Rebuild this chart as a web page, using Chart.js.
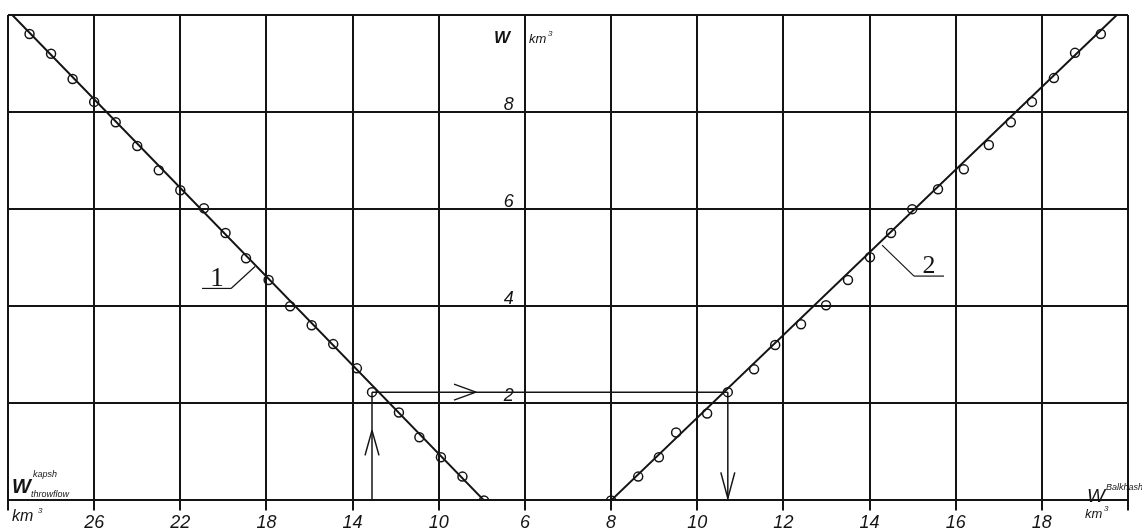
<!DOCTYPE html>
<html>
<head>
<meta charset="utf-8">
<script src="https://cdn.jsdelivr.net/npm/chart.js@4.4.0/dist/chart.umd.min.js"></script>
<style>
  html, body { margin: 0; padding: 0; background: #fff; overflow: hidden; }
  #wrap { width: 1142px; height: 545px; position: relative; }
</style>
</head>
<body>
<div id="wrap"><canvas id="nomogram"></canvas></div>
<script>
// Curve 1: throughflow from Kapshagay (left, reversed scale)
const leftX = [29.0, 28.0, 27.0, 26.0, 25.0, 24.0, 23.0, 22.0, 20.9, 19.9, 18.95,
               17.9, 16.9, 15.9, 14.9, 13.8, 13.1, 11.85, 10.9, 9.9, 8.9, 7.9];
const leftY = [9.61, 9.20, 8.68, 8.21, 7.79, 7.30, 6.80, 6.39, 6.02, 5.51, 4.99,
               4.54, 4.00, 3.61, 3.22, 2.72, 2.23, 1.81, 1.30, 0.89, 0.49, 0.0];
const fitLeftX = [29.8, 7.9];
const fitLeftY = [10, 0];

// Curve 2: Balkhash (right)
const rightX = [8.0, 8.63, 9.11, 9.51, 10.23, 10.71, 11.32, 11.81, 12.41, 12.99, 13.5,
                14.01, 14.5, 14.99, 15.59, 16.19, 16.77, 17.28, 17.77, 18.28, 18.77, 19.37];
const rightY = [0.0, 0.49, 0.89, 1.40, 1.79, 2.23, 2.70, 3.20, 3.63, 4.02, 4.54,
                5.01, 5.51, 6.00, 6.41, 6.82, 7.32, 7.79, 8.21, 8.70, 9.22, 9.61];
const fitRightX = [8, 19.74];
const fitRightY = [0, 10];

// tick labels
const leftTicks = [26, 22, 18, 14, 10, 6];
const rightTicks = [8, 10, 12, 14, 16, 18];
const yTicks = [2, 4, 6, 8];

// example reading shown with arrows
const readLeft = 13.1;
const readRight = 10.71;
const readW = 2.23;

// both x scales share the same plot width
const LEFT_MIN = -22, LEFT_MAX = 30;
const RIGHT_MIN = -6, RIGHT_MAX = 20;

const INK = '#141414';
const SANS = '"Liberation Sans", Arial, sans-serif';
const SERIF = '"Liberation Serif", "Times New Roman", serif';

function pts(xs, ys) {
    return xs.map((x, i) => ({ x: x, y: ys[i] }));
}

function tickText(v) {
    v = Math.round(v);
    if (rightTicks.includes(v)) return String(v);
    // same spot on the reversed left scale
    const l = Math.round(LEFT_MAX - (v - RIGHT_MIN) * (LEFT_MAX - LEFT_MIN) / (RIGHT_MAX - RIGHT_MIN));
    return leftTicks.includes(l) ? String(l) : '';
}

function seg(ctx, x1, y1, x2, y2) {
    ctx.beginPath();
    ctx.moveTo(x1, y1);
    ctx.lineTo(x2, y2);
    ctx.stroke();
}

function txt(ctx, s, x, y, font) {
    ctx.font = font;
    ctx.fillText(s, x, y);
}

const sketchNotes = {
    id: 'sketchNotes',
    afterDatasetsDraw(chart) {
        const { ctx } = chart;
        const { x, xLeft, y } = chart.scales;
        ctx.save();
        ctx.strokeStyle = INK;
        ctx.fillStyle = INK;
        ctx.lineWidth = 1.5;

        // reading arrows
        const xa = xLeft.getPixelForValue(readLeft);
        const xb = x.getPixelForValue(readRight);
        const ya = y.getPixelForValue(readW);
        const y0 = y.getPixelForValue(0);
        seg(ctx, xa, y0, xa, ya);
        seg(ctx, xa, ya, xb, ya);
        seg(ctx, xb, ya, xb, y0);
        // ^ on the left upright
        seg(ctx, xa - 7, y0 - 45, xa, y0 - 70);
        seg(ctx, xa + 7, y0 - 45, xa, y0 - 70);
        // > on the horizontal
        seg(ctx, xa + 82, ya - 8, xa + 104, ya);
        seg(ctx, xa + 82, ya + 8, xa + 104, ya);
        // v on the right upright
        seg(ctx, xb - 7, y0 - 28, xb, y0 - 2);
        seg(ctx, xb + 7, y0 - 28, xb, y0 - 2);

        // curve numbers with leaders
        ctx.lineWidth = 1.2;
        const p1x = xLeft.getPixelForValue(18.53), p1y = y.getPixelForValue(4.82);
        seg(ctx, p1x, p1y, p1x - 24, p1y + 22);
        seg(ctx, p1x - 24, p1y + 22, p1x - 53, p1y + 22);
        ctx.textAlign = 'center';
        txt(ctx, '1', p1x - 38, p1y + 20, '27px ' + SERIF);
        const p2x = x.getPixelForValue(14.29), p2y = y.getPixelForValue(5.26);
        seg(ctx, p2x, p2y, p2x + 32, p2y + 31);
        seg(ctx, p2x + 32, p2y + 31, p2x + 62, p2y + 31);
        txt(ctx, '2', p2x + 47, p2y + 28, '26px ' + SERIF);

        // axis names
        ctx.textAlign = 'left';
        const xc = x.getPixelForValue(6);
        const top = chart.chartArea.top, left = chart.chartArea.left, right = chart.chartArea.right;
        txt(ctx, 'W', xc - 31, top + 28, 'italic bold 17px ' + SANS);
        txt(ctx, 'km', xc + 4, top + 28, 'italic 13px ' + SANS);
        txt(ctx, '3', xc + 23, top + 21, 'italic 8px ' + SANS);

        txt(ctx, 'W', left + 4, y0 - 7, 'italic bold 20px ' + SANS);
        txt(ctx, 'kapsh', left + 25, y0 - 23, 'italic 9px ' + SANS);
        txt(ctx, 'throwflow', left + 23, y0 - 3, 'italic 9px ' + SANS);
        txt(ctx, 'km', left + 4, y0 + 21, 'italic 16px ' + SANS);
        txt(ctx, '3', left + 30, y0 + 13, 'italic 8px ' + SANS);

        txt(ctx, 'W', right - 41, y0 + 2, 'italic 19px ' + SANS);
        txt(ctx, 'Balkhash', right - 22, y0 - 10, 'italic 9px ' + SANS);
        txt(ctx, 'km', right - 43, y0 + 18, 'italic 13px ' + SANS);
        txt(ctx, '3', right - 24, y0 + 11, 'italic 8px ' + SANS);
        ctx.restore();
    }
};

const markerStyle = {
    showLine: false,
    pointRadius: 4.5,
    pointBorderWidth: 1.5,
    pointBorderColor: INK,
    pointBackgroundColor: 'rgba(255,255,255,0)'
};
const fitStyle = {
    showLine: true,
    borderColor: INK,
    borderWidth: 2,
    pointRadius: 0
};

new Chart(document.getElementById('nomogram'), {
    type: 'scatter',
    data: {
        datasets: [
            Object.assign({ label: 'fit 1', data: pts(fitLeftX, fitLeftY), xAxisID: 'xLeft' }, fitStyle),
            Object.assign({ label: '1', data: pts(leftX, leftY), xAxisID: 'xLeft' }, markerStyle),
            Object.assign({ label: 'fit 2', data: pts(fitRightX, fitRightY), xAxisID: 'x' }, fitStyle),
            Object.assign({ label: '2', data: pts(rightX, rightY), xAxisID: 'x' }, markerStyle)
        ]
    },
    options: {
        responsive: true,
        maintainAspectRatio: false,
        animation: false,
        layout: { padding: { left: 8, right: 14, top: 15, bottom: 9 } },
        plugins: { legend: { display: false }, tooltip: { enabled: false } },
        scales: {
            x: {
                type: 'linear',
                position: 'bottom',
                min: RIGHT_MIN,
                max: RIGHT_MAX,
                grid: { color: INK, lineWidth: 2, drawTicks: true, tickLength: 10, tickColor: INK },
                border: { color: INK, width: 2 },
                ticks: {
                    stepSize: 2,
                    autoSkip: false,
                    maxRotation: 0,
                    padding: 2,
                    color: INK,
                    font: { family: SANS, style: 'italic', size: 18 },
                    callback: v => tickText(v)
                }
            },
            xLeft: {
                type: 'linear',
                axis: 'x',
                display: false,
                reverse: true,
                min: LEFT_MIN,
                max: LEFT_MAX
            },
            y: {
                type: 'linear',
                min: 0,
                max: 10,
                // labels sit just left of the x = 6 grid line
                position: { x: 5.74 },
                grid: { color: INK, lineWidth: 2, drawTicks: false },
                border: { display: false },
                ticks: {
                    stepSize: 2,
                    labelOffset: -7,
                    padding: 0,
                    color: INK,
                    font: { family: SANS, style: 'italic', size: 18 },
                    callback: v => yTicks.includes(v) ? String(v) : ''
                }
            }
        }
    },
    plugins: [sketchNotes]
});
</script>
</body>
</html>
